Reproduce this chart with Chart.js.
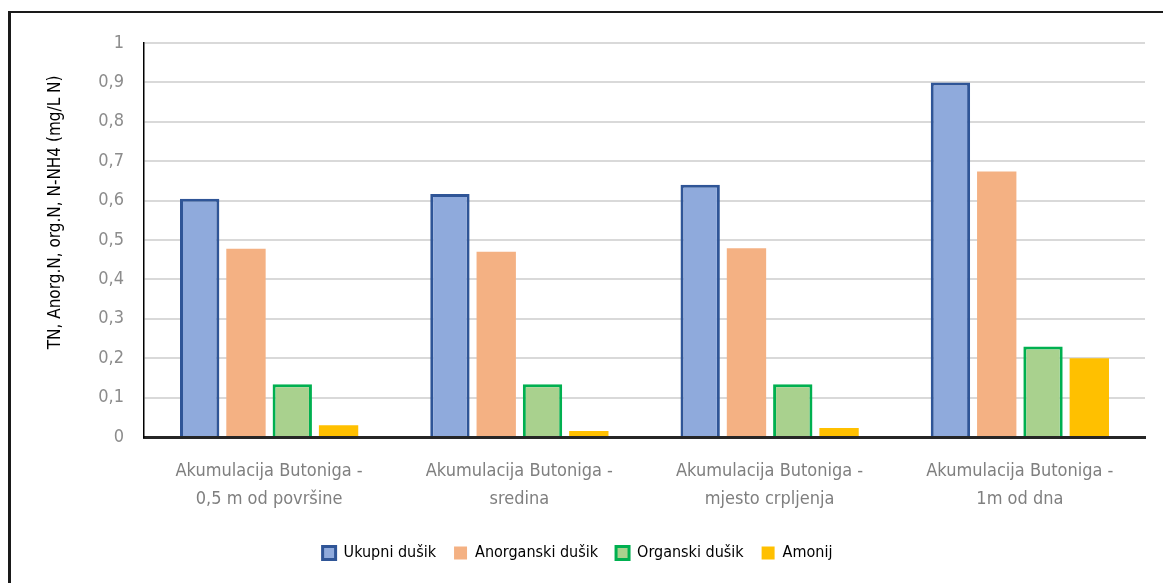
<!DOCTYPE html>
<html>
<head>
<meta charset="utf-8">
<script src="https://cdn.jsdelivr.net/npm/chart.js@4/dist/chart.umd.min.js"></script>
<style>
    html, body { margin: 0; padding: 0; background: #fff; }
    #wrap { position: relative; width: 1163px; height: 583px; overflow: hidden; }
    #frame {
        position: absolute; left: 8px; top: 11px; width: 1200px; height: 700px;
        border-left: 3px solid #1a1a1a; border-top: 2px solid #1a1a1a;
    }
    #canvas { position: absolute; left: 0; top: 0; }
</style>
</head>
<body>
<div id="wrap">
    <div id="frame"></div>
    <canvas id="canvas" width="1163" height="583"></canvas>
</div>
<script>
const categories = [
    ['Akumulacija Butoniga -', '0,5 m od površine'],
    ['Akumulacija Butoniga -', 'sredina'],
    ['Akumulacija Butoniga -', 'mjesto crpljenja'],
    ['Akumulacija Butoniga -', '1m od dna'],
];
const ukupniDusik = [0.605, 0.617, 0.64, 0.9];
const anorganskiDusik = [0.478, 0.47, 0.479, 0.674];
const organskiDusik = [0.134, 0.134, 0.134, 0.23];
const amonij = [0.03, 0.015, 0.023, 0.2];
const yTickLabels = ['0', '0,1', '0,2', '0,3', '0,4', '0,5', '0,6', '0,7', '0,8', '0,9', '1'];
const yTitle = 'TN, Anorg.N, org.N, N-NH4 (mg/L N)';

const fontFamily = '"Liberation Sans Narrow", "DejaVu Sans Condensed", sans-serif';

// y axis title is drawn a bit above the plot centre, like in the original
const yTitlePlugin = {
    id: 'yTitle',
    afterDraw(chart) {
        const ctx = chart.ctx;
        const area = chart.chartArea;
        ctx.save();
        ctx.translate(56, area.top + area.height * 0.43);
        ctx.rotate(-Math.PI / 2);
        ctx.font = '17px ' + fontFamily;
        ctx.fillStyle = '#000';
        ctx.textAlign = 'center';
        ctx.textBaseline = 'middle';
        ctx.fillText(yTitle, 0, 0);
        ctx.restore();
    },
};

const ctx = document.getElementById('canvas');
const chart = new Chart(ctx, {
    type: 'bar',
    data: {
        labels: categories,
        datasets: [
            {
                label: 'Ukupni dušik',
                data: ukupniDusik,
                backgroundColor: '#8faadc',
                borderColor: '#2f5597',
                borderWidth: 3,
            },
            {
                label: 'Anorganski dušik',
                data: anorganskiDusik,
                backgroundColor: '#f4b183',
                borderColor: '#f4b183',
                borderWidth: 0,
            },
            {
                label: 'Organski dušik',
                data: organskiDusik,
                backgroundColor: '#a9d18e',
                borderColor: '#00b050',
                borderWidth: 3,
            },
            {
                label: 'Amonij',
                data: amonij,
                backgroundColor: '#ffc000',
                borderColor: '#ffc000',
                borderWidth: 0,
            },
        ],
    },
    options: {
        responsive: false,
        animation: false,
        categoryPercentage: 0.74,
        barPercentage: 0.85,
        layout: {
            padding: { left: 10, top: 43, right: 18, bottom: 12 },
        },
        plugins: {
            tooltip: { enabled: false },
            legend: {
                position: 'bottom',
                labels: {
                    boxWidth: 13,
                    boxHeight: 13,
                    padding: 18,
                    color: '#000',
                    font: { family: fontFamily, size: 16 },
                },
            },
        },
        scales: {
            x: {
                grid: { display: false, drawTicks: false },
                border: { display: true, color: '#262626', width: 3 },
                ticks: {
                    color: '#7f7f7f',
                    padding: 20,
                    maxRotation: 0,
                    autoSkip: false,
                    font: { family: fontFamily, size: 18, lineHeight: 1.55 },
                },
                afterFit(scale) {
                    scale.height = 90;
                },
            },
            y: {
                min: 0,
                max: 1,
                grid: { color: '#d9d9d9', lineWidth: 2, drawTicks: false },
                border: { display: true, color: '#000', width: 1.5 },
                ticks: {
                    stepSize: 0.1,
                    color: '#8c8c8c',
                    padding: 20,
                    font: { family: fontFamily, size: 18 },
                    callback: function (value, index) {
                        return yTickLabels[index];
                    },
                },
                afterFit(scale) {
                    scale.width = 134;
                },
            },
        },
    },
    plugins: [yTitlePlugin],
});
</script>
</body>
</html>
